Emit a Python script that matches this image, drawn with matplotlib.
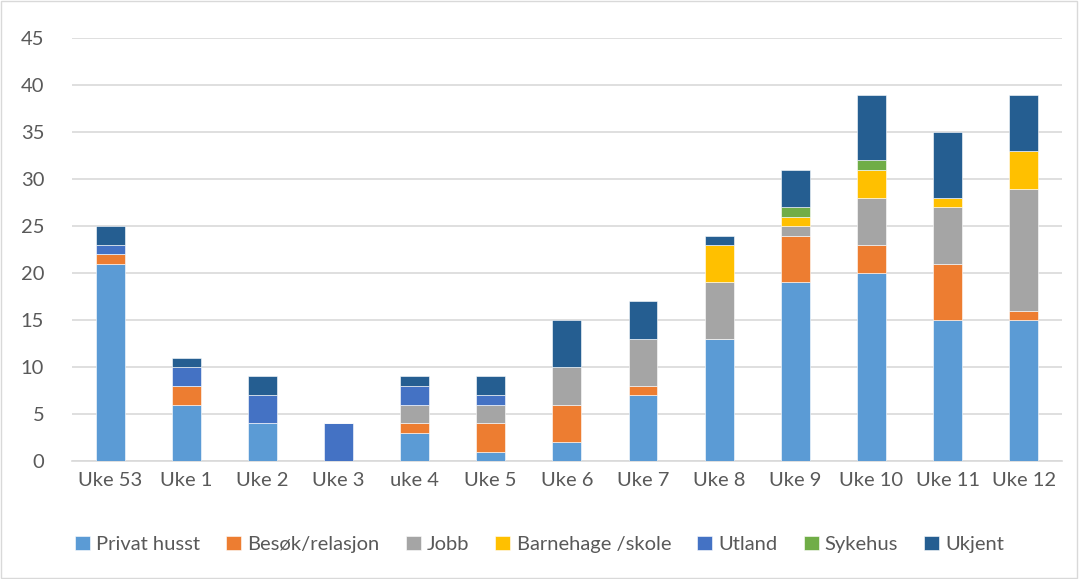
import numpy as np
import matplotlib.pyplot as plt

plt.rcParams['font.family'] = ['Lato', 'DejaVu Sans']

weeks = ['Uke 53', 'Uke 1', 'Uke 2', 'Uke 3', 'uke 4', 'Uke 5', 'Uke 6',
         'Uke 7', 'Uke 8', 'Uke 9', 'Uke 10', 'Uke 11', 'Uke 12']

privat = [21, 6, 4, 0, 3, 1, 2, 7, 13, 19, 20, 15, 15]
besok = [1, 2, 0, 0, 1, 3, 4, 1, 0, 5, 3, 6, 1]
jobb = [0, 0, 0, 0, 2, 2, 4, 5, 6, 1, 5, 6, 13]
barnehage = [0, 0, 0, 0, 0, 0, 0, 0, 4, 1, 3, 1, 4]
utland = [1, 2, 3, 4, 2, 1, 0, 0, 0, 0, 0, 0, 0]
sykehus = [0, 0, 0, 0, 0, 0, 0, 0, 0, 1, 1, 0, 0]
ukjent = [2, 1, 2, 0, 1, 2, 5, 4, 1, 4, 7, 7, 6]

series = [
    ('Privat husst', privat, '#5b9bd5'),
    ('Besøk/relasjon', besok, '#ed7d31'),
    ('Jobb', jobb, '#a5a5a5'),
    ('Barnehage /skole', barnehage, '#ffc000'),
    ('Utland', utland, '#4472c4'),
    ('Sykehus', sykehus, '#70ad47'),
    ('Ukjent', ukjent, '#255e91'),
]

fig = plt.figure(figsize=(10.79, 5.79), dpi=100)
ax = fig.add_axes([0.0667, 0.2038, 0.9173, 0.7302])

x = np.arange(len(weeks))
bottom = np.zeros(len(weeks))
for label, vals, color in series:
    vals = np.array(vals, dtype=float)
    ax.bar(x, vals, bottom=bottom, width=0.38, color=color, label=label,
           edgecolor='white', linewidth=0.4, zorder=3)
    bottom += vals

ax.set_xlim(-0.5, len(weeks) - 0.5)
ax.set_ylim(0, 45)
ax.set_yticks(range(0, 50, 5))
ax.set_xticks(x)
ax.set_xticklabels(weeks)
ax.grid(axis='y', color='#d9d9d9', linewidth=1.2, zorder=0)
for s in ['top', 'right', 'left']:
    ax.spines[s].set_visible(False)
ax.spines['bottom'].set_color('#d9d9d9')
ax.spines['bottom'].set_linewidth(1.2)
ax.tick_params(length=0, colors='#595959', labelsize=14.5)
ax.tick_params(axis='y', pad=20)
ax.tick_params(axis='x', pad=8)

fig.legend(loc='center', bbox_to_anchor=(0.5, 0.06), ncol=7, frameon=False,
           fontsize=14.5, labelcolor='#595959', handlelength=0.75,
           handleheight=0.75, handletextpad=0.3, columnspacing=1.3)

fig.patches.append(plt.Rectangle((0.001, 0.001), 0.997, 0.997, transform=fig.transFigure,
                                 fill=False, edgecolor='#d9d9d9', linewidth=1))

fig.savefig('out.png', dpi=100)
